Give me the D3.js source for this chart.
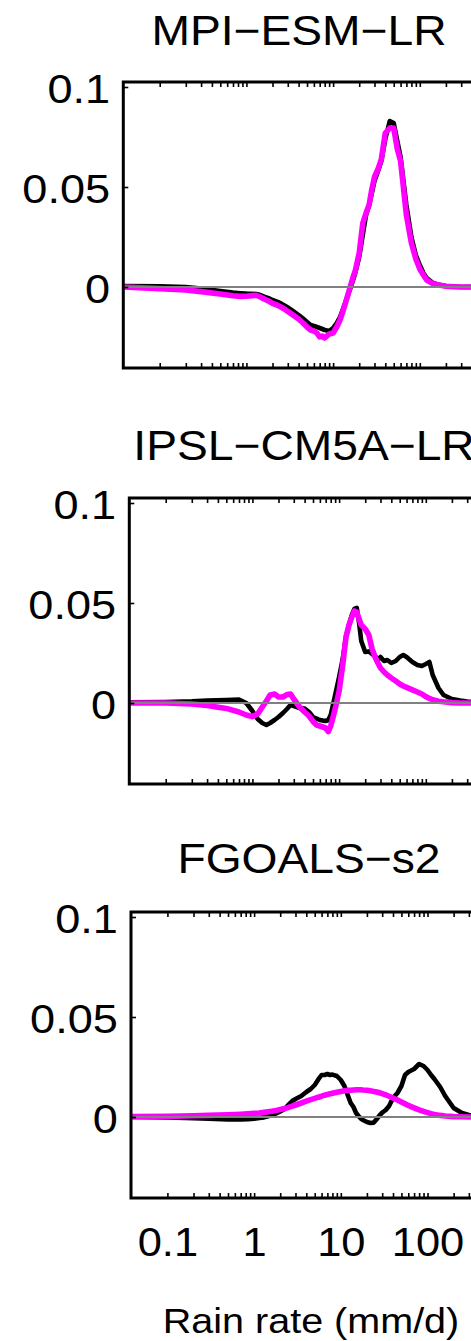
<!DOCTYPE html>
<html>
<head>
<meta charset="utf-8">
<script src="https://cdn.jsdelivr.net/npm/d3@7"></script>
<style>
  html, body { margin: 0; padding: 0; background: #fff; overflow: hidden; }
  svg { display: block; }
  text { font-family: "Liberation Sans", Arial, Helvetica, sans-serif; fill: #000; }
</style>
</head>
<body>
<svg id="chart" width="471" height="1341"></svg>
<script>
// Rain rate bins (mm/d), shared by every panel
const rainRate = [0.038, 0.1, 0.2, 0.3, 0.5, 0.7, 0.85, 1, 1.15, 1.3, 1.45, 1.6, 1.8, 2, 2.25, 2.5, 2.75,
  3, 3.5, 4, 4.5, 5, 5.5, 6, 6.5, 7, 7.5, 8, 9, 10, 11, 12, 13, 14, 15, 16, 17, 18, 20, 22, 24, 26, 28,
  30, 33, 36, 40, 45, 50, 55, 60, 70, 80, 90, 100, 110, 120, 140, 160, 200, 250, 300, 400];

// MPI-ESM-LR
const mpiModel = [0.0005, 0.0004, 0.0, -0.0008, -0.002, -0.0028, -0.0031, -0.0033, -0.0034, -0.0035, -0.004, -0.0048, -0.0056, -0.0065, -0.0073, -0.0082, -0.0092,
  -0.0102, -0.0122, -0.014, -0.0158, -0.0175, -0.019, -0.0195, -0.020, -0.0205, -0.021, -0.0215, -0.022, -0.0205, -0.018, -0.015, -0.011, -0.0072, -0.0035, 0.0, 0.0035, 0.007, 0.015, 0.026, 0.036, 0.041, 0.047,
  0.053, 0.058, 0.063, 0.074, 0.083, 0.082, 0.073, 0.065, 0.041, 0.025, 0.016, 0.011, 0.007, 0.0045, 0.0022, 0.0013, 0.0005, 0.0002, 0, 0];
const mpiFit = [0, -0.0008, -0.0015, -0.0023, -0.0035, -0.0044, -0.0047, -0.0046, -0.0043, -0.0042, -0.005, -0.006, -0.007, -0.0082, -0.009, -0.010, -0.011,
  -0.0122, -0.0142, -0.016, -0.018, -0.020, -0.0215, -0.022, -0.023, -0.025, -0.0245, -0.0255, -0.0235, -0.023, -0.020, -0.0165, -0.012, -0.0075, -0.003, 0.001, 0.005, 0.008, 0.017, 0.032, 0.037, 0.041, 0.049,
  0.055, 0.059, 0.064, 0.077, 0.0795, 0.0795, 0.069, 0.063, 0.036, 0.022, 0.014, 0.009, 0.006, 0.0035, 0.0018, 0.0011, 0.0004, 0.0001, 0, 0];

// IPSL-CM5A-LR
const ipslModel = [0.0003, 0.0005, 0.0008, 0.0012, 0.0015, 0.0017, 0.0, -0.004, -0.008, -0.010, -0.011, -0.010, -0.0085, -0.007, -0.005, -0.003, -0.001,
  -0.0015, -0.0025, -0.0028, -0.0045, -0.007, -0.0078, -0.0085, -0.0088, -0.009, -0.0085, -0.006, 0.004, 0.013, 0.022, 0.033, 0.039, 0.044, 0.047, 0.0475, 0.040, 0.031, 0.0255, 0.0258, 0.0245, 0.0235, 0.0215,
  0.023, 0.021, 0.0215, 0.020, 0.021, 0.023, 0.024, 0.023, 0.0205, 0.019, 0.0185, 0.0195, 0.0205, 0.014, 0.0075, 0.004, 0.002, 0.0012, 0.0007, 0.0003];
const ipslFit = [0, 0, -0.0005, -0.0012, -0.0027, -0.0045, -0.006, -0.0068, -0.0055, -0.002, 0.001, 0.004, 0.0045, 0.003, 0.003, 0.0042, 0.0045,
  0.002, -0.002, -0.0045, -0.0065, -0.0092, -0.011, -0.0115, -0.012, -0.0125, -0.0143, -0.0115, -0.003, 0.006, 0.019, 0.033, 0.039, 0.043, 0.046, 0.0455, 0.042, 0.039, 0.037, 0.034, 0.027, 0.023, 0.020,
  0.0175, 0.0155, 0.014, 0.0125, 0.011, 0.0095, 0.0085, 0.0078, 0.0066, 0.0055, 0.0045, 0.0032, 0.0023, 0.0016, 0.0009, 0.0006, 0.0002, 0, 0, 0];

// FGOALS-s2
const fgoalsModel = [0, -0.0002, -0.0006, -0.0008, -0.0012, -0.0012, -0.0011, -0.0009, -0.0005, -0.0002, 0.0004, 0.001, 0.0018, 0.0028, 0.004, 0.0062, 0.008,
  0.009, 0.0105, 0.0125, 0.014, 0.016, 0.0188, 0.021, 0.021, 0.0215, 0.021, 0.0212, 0.0205, 0.0185, 0.0155, 0.011, 0.007, 0.005, 0.002, 0.0005, -0.0008, -0.0015, -0.0025, -0.003, -0.0028, -0.001, 0.0008,
  0.0022, 0.0035, 0.0055, 0.0095, 0.012, 0.0155, 0.021, 0.0225, 0.024, 0.0265, 0.0255, 0.0235, 0.021, 0.019, 0.015, 0.0105, 0.0045, 0.002, 0.001, 0.0005];
const fgoalsFit = [0.0002, 0.0003, 0.0006, 0.0008, 0.0011, 0.0014, 0.0016, 0.0018, 0.002, 0.0023, 0.0026, 0.0029, 0.0033, 0.0037, 0.0042, 0.0048, 0.0054,
  0.006, 0.007, 0.0079, 0.0087, 0.0093, 0.0099, 0.0104, 0.0109, 0.0113, 0.0116, 0.0119, 0.0124, 0.0128, 0.0131, 0.0133, 0.0134, 0.0135, 0.0136, 0.0136, 0.0136, 0.0135, 0.0134, 0.0131, 0.0128, 0.0125, 0.0121,
  0.0117, 0.0111, 0.0104, 0.0095, 0.0085, 0.0075, 0.0066, 0.0058, 0.0046, 0.0036, 0.0028, 0.0022, 0.0017, 0.0013, 0.0008, 0.0005, 0.0002, 0.0001, 0, 0];

const panelTitles = ["MPI\u2212ESM\u2212LR", "IPSL\u2212CM5A\u2212LR", "FGOALS\u2212s2"];
const yTickValues = [0, 0.05, 0.1];
const yTickLabels = ["0", "0.05", "0.1"];
const xTickValues = [0.1, 1, 10, 100];
const xTickLabels = ["0.1", "1", "10", "100"];
const xAxisTitle = "Rain rate (mm/d)";

const svg = d3.select("#chart");

// Frame geometry for each stacked panel
const layout = [
  { left: 123.3, zero: 287,  titleX: 299, titleY: 45 },
  { left: 129.3, zero: 703,  titleX: 304, titleY: 460 },
  { left: 131.0, zero: 1117, titleX: 309, titleY: 873 }
];
const seriesPairs = [[mpiModel, mpiFit], [ipslModel, ipslFit], [fgoalsModel, fgoalsFit]];

const xDomain = [Math.pow(10, -1.42), Math.pow(10, 2.65)];
const decadePx = 86.7;
const plotW = (Math.log10(xDomain[1]) - Math.log10(xDomain[0])) * decadePx;
const yDomain = [-0.0405, 0.1025];
const pxPerUnit = 2000;

// Minor/major tick marks at every integer multiple inside each decade
const logTicks = [];
[0.1, 1, 10, 100].forEach(dec => {
  for (let m = 1; m <= 9; m++) {
    const v = +(m * dec).toPrecision(3);
    if (v >= xDomain[0] && v <= xDomain[1]) logTicks.push(v);
  }
});

function styleTicks(g) {
  g.select(".domain").remove();
  g.selectAll(".tick line").attr("stroke", "#000").attr("stroke-width", 1.6);
}

layout.forEach((p, i) => {
  const top = p.zero - yDomain[1] * pxPerUnit;
  const bottom = p.zero - yDomain[0] * pxPerUnit;
  const right = p.left + plotW;

  const x = d3.scaleLog().domain(xDomain).range([p.left, right]);
  const y = d3.scaleLinear().domain(yDomain).range([bottom, top]);

  const g = svg.append("g");

  const clipId = "clip" + i;
  g.append("clipPath").attr("id", clipId)
    .append("rect").attr("x", p.left).attr("y", top)
    .attr("width", plotW).attr("height", bottom - top);

  const line = d3.line()
    .x((d, k) => x(rainRate[k]))
    .y(d => y(d));

  const [model, fit] = seriesPairs[i];
  const curves = g.append("g").attr("clip-path", `url(#${clipId})`);
  curves.append("path").datum(model)
    .attr("d", line).attr("fill", "none")
    .attr("stroke", "#000").attr("stroke-width", 4.6)
    .attr("stroke-linejoin", "round").attr("stroke-linecap", "round");
  curves.append("path").datum(fit)
    .attr("d", line).attr("fill", "none")
    .attr("stroke", "#ff00ff").attr("stroke-width", 5.6)
    .attr("stroke-linejoin", "round").attr("stroke-linecap", "round");

  // zero reference line
  g.append("line")
    .attr("x1", p.left).attr("x2", right)
    .attr("y1", y(0)).attr("y2", y(0))
    .attr("stroke", "#808080").attr("stroke-width", 1.8);

  // inward tick marks on all four sides
  g.append("g").attr("transform", `translate(0,${bottom})`)
    .call(d3.axisBottom(x).tickValues(logTicks).tickSize(-5).tickFormat(""))
    .call(styleTicks);
  g.append("g").attr("transform", `translate(0,${top})`)
    .call(d3.axisTop(x).tickValues(logTicks).tickSize(-5).tickFormat(""))
    .call(styleTicks);
  g.append("g").attr("transform", `translate(${right},0)`)
    .call(d3.axisRight(y).tickValues(yTickValues).tickSize(-5).tickFormat(""))
    .call(styleTicks);

  const yAxis = g.append("g").attr("transform", `translate(${p.left},0)`)
    .call(d3.axisLeft(y).tickValues(yTickValues).tickSize(-5).tickPadding(12)
      .tickFormat(d => yTickLabels[yTickValues.indexOf(d)]))
    .call(styleTicks);
  yAxis.selectAll(".tick text")
    .attr("font-size", 41).attr("font-family", null)
    .attr("dy", "0.37em")
    .attr("transform", "scale(1.1,1)");

  // axes box
  g.append("rect")
    .attr("x", p.left).attr("y", top)
    .attr("width", plotW).attr("height", bottom - top)
    .attr("fill", "none").attr("stroke", "#000").attr("stroke-width", 3);

  // panel title
  g.append("text")
    .attr("text-anchor", "middle")
    .attr("font-size", 42)
    .attr("transform", `translate(${p.titleX},${p.titleY}) scale(1.1,1)`)
    .text(panelTitles[i]);

  // rain-rate labels only under the bottom panel
  if (i === layout.length - 1) {
    const xAxis = g.append("g").attr("transform", `translate(0,${bottom})`)
      .call(d3.axisBottom(x).tickValues(xTickValues).tickSize(0).tickPadding(29)
        .tickFormat(d => xTickLabels[xTickValues.indexOf(d)]));
    xAxis.select(".domain").remove();
    xAxis.selectAll(".tick text")
      .attr("font-size", 41).attr("font-family", null)
      .attr("transform", "scale(1.06,1)")
      .attr("x", 0);
    g.append("text")
      .attr("text-anchor", "middle")
      .attr("font-size", 35)
      .attr("transform", `translate(311,1333) scale(1.13,1)`)
      .text(xAxisTitle);
  }
});
</script>
</body>
</html>
